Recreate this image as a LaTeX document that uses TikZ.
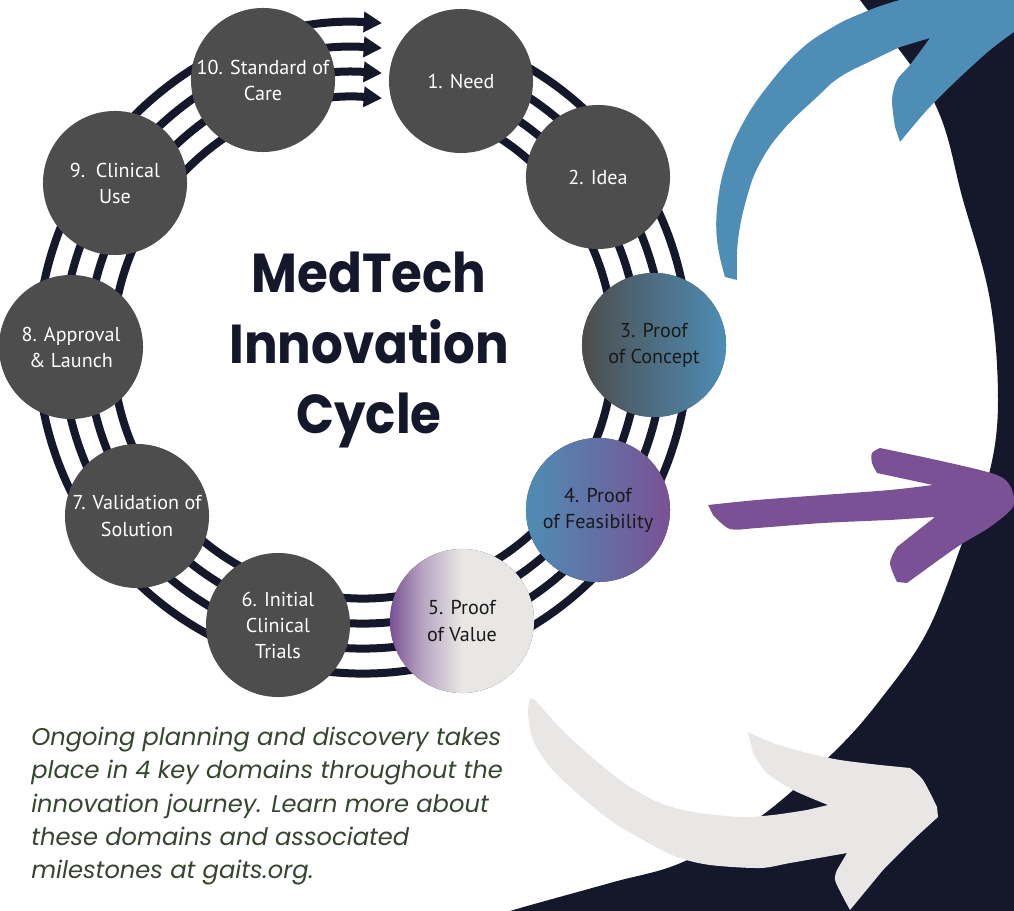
\documentclass[tikz,border=0pt]{standalone}
\usepackage{fontspec}
\setmainfont{PT Sans}
\newfontfamily\titlefont{Poppins}[FakeStretch=0.91]
\newfontfamily\notefont{Poppins}
\usetikzlibrary{arrows.meta}
\definecolor{inknavy}{HTML}{15172B}
\definecolor{stepgray}{HTML}{4D4D4D}
\definecolor{domblue}{HTML}{4E8DB5}
\definecolor{dompurple}{HTML}{7A5194}
\definecolor{domlight}{HTML}{E8E7E5}
\definecolor{notegreen}{HTML}{36452F}
\pgfdeclarehorizontalshading{valueshade}{100bp}{color(0bp)=(dompurple); color(25bp)=(dompurple); color(36bp)=(dompurple!45!domlight); color(50bp)=(domlight); color(100bp)=(domlight)}

\begin{document}
\begin{tikzpicture}[x=0.025cm, y=-0.025cm,
  stage/.style={circle, minimum size=3.6cm, inner sep=0pt, align=center, fill=stepgray, text=white,
    font=\fontsize{14.3}{18.5}\selectfont},
  darktext/.style={text=black!90},
  band/.style={draw=inknavy, line width=0.2cm, -{Triangle[length=13pt, width=14pt]}}]
  \useasboundingbox (0,0) rectangle (1014,911);
  \clip (0,0) rectangle (1014,911);

  % dark backdrop on the right
  \fill[inknavy] plot[smooth, tension=0.6] coordinates {(845,-20) (860,0) (933,100) (963,200) (990,300) (998,400)
    (990,470) (967,530) (928,630) (880,700) (833,753) (760,817) (683,862) (610,883) (510,911) (470,925)}
    -- (1040,940) -- (1040,-20) -- cycle;

  % domain arrows
  \fill[domblue] plot[smooth, tension=0.7] coordinates {(725,277) (717,240) (718,200) (727,160) (743,123) (767,87)
      (800,50) (833,27) (860,14) (893,2) (940,-10)}
    -- (1060,-30) -- (1060,10)
    -- plot[smooth] coordinates {(1014,32) (990,50) (957,80) (927,110) (900,142)}
    -- plot[smooth] coordinates {(895,127) (892,100) (897,80) (910,65) (930,38)}
    -- plot[smooth, tension=0.7] coordinates {(900,47) (873,60) (840,77) (817,97) (783,130) (760,163) (747,197)
      (738,240) (737,280)} -- cycle;
  \fill[dompurple] plot[smooth] coordinates {(708,505) (757,500) (823,495) (890,490) (933,485)}
    -- plot[smooth] coordinates {(877,473) (872,463) (872,453) (880,448)}
    -- plot[smooth] coordinates {(923,457) (980,470) (1003,478) (1012,490) (1013,507) (990,527) (957,547) (907,583)}
    -- plot[smooth] coordinates {(897,582) (890,563) (897,547)} -- (935,517)
    -- plot[smooth] coordinates {(890,520) (823,523) (757,528) (730,529) (713,515)} -- cycle;
  \fill[domlight] plot[smooth] coordinates {(530,698) (528,713) (533,740) (550,767) (577,793) (610,820) (643,840)
      (677,857) (710,865) (760,868) (790,863) (847,853)}
    -- plot[smooth] coordinates {(837,870) (835,880) (843,897) (850,910)}
    -- plot[smooth] coordinates {(883,870) (913,840) (938,817)}
    -- plot[smooth] coordinates {(937,807) (923,780) (910,768)}
    -- plot[smooth] coordinates {(880,765) (840,760) (807,753) (773,743) (748,732)}
    -- plot[smooth] coordinates {(753,753) (767,773) (793,790) (828,805)}
    -- plot[smooth] coordinates {(807,810) (773,815) (740,817) (693,812) (660,803) (627,785) (595,760) (562,730)
      (535,700)} -- cycle;

  % striped ring with arrows into step 1
  \foreach \r in {250.5,275.5,300.5,325.5}
    \draw[band] (363,348) ++(-70:\r) arc[start angle=-70, end angle={270+asin(19/\r)}, radius=\r];

  \node[stage] (need) at (461,81) {1. Need};
  \node[stage] (idea) at (598,177) {2. Idea};
  \node[stage, darktext, left color=stepgray, right color=domblue] (concept) at (654,345) {3. Proof\\of Concept};
  \node[stage, darktext, left color=domblue, right color=dompurple] (feasibility) at (598,510) {4. Proof\\of Feasibility};
  \node[stage, darktext, shading=valueshade] (value) at (462,621) {5. Proof\\of Value};
  \node[stage] (trials) at (278,625) {6. Initial\\Clinical\\Trials};
  \node[stage] (validation) at (137,516) {7. Validation of\\Solution};
  \node[stage] (approval) at (71,347) {8. Approval\\\& Launch};
  \node[stage] (clinicaluse) at (115,183) {9.\ \ Clinical\\Use};
  \node[stage] (care) at (263,80) {10. Standard of\\Care};

  \node[text=inknavy, align=center, font=\titlefont\bfseries\fontsize{39}{50}\selectfont] (title) at (369,350)
    {MedTech\\Innovation\\Cycle};

  \node[anchor=north west, align=left, inner sep=0pt, text=notegreen,
    font=\notefont\itshape\fontsize{17.2}{23.65}\selectfont] (note) at (31,727)
    {Ongoing planning and discovery takes\\place in 4 key domains throughout the\\innovation journey. Learn more about\\these domains and associated\\milestones at gaits.org.};
\end{tikzpicture}
\end{document}
